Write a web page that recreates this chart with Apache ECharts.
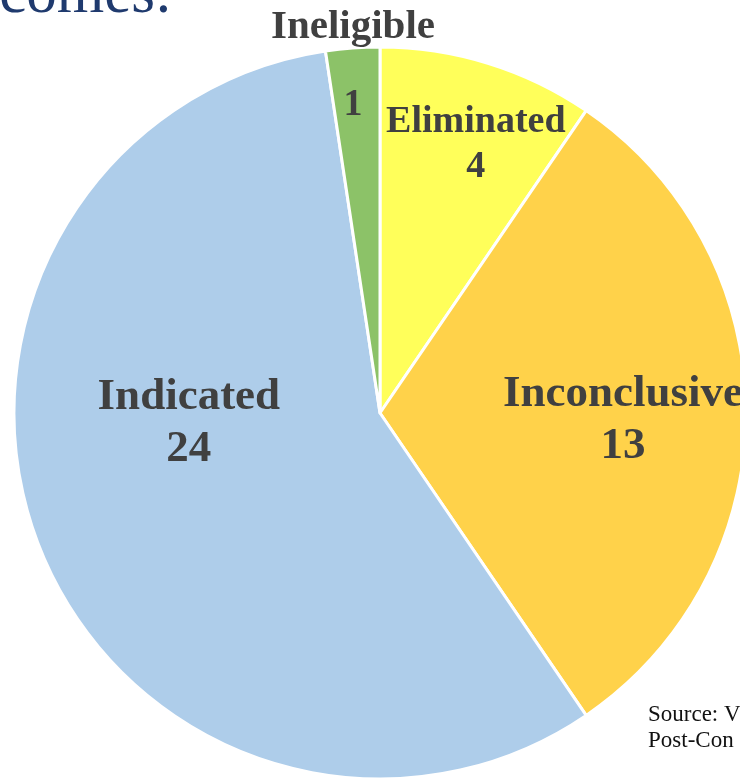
<!DOCTYPE html>
<html>
<head>
<meta charset="utf-8">
<script src="https://cdn.jsdelivr.net/npm/echarts@6/dist/echarts.min.js"></script>
<style>
  html, body { margin: 0; padding: 0; background: #fff; }
  #chart { width: 740px; height: 778px; }
</style>
</head>
<body>
<div id="chart"></div>
<script>
var categories = ["Eliminated", "Inconclusive", "Indicated", "Ineligible"];
var values = [4, 13, 24, 1];
var colors = ["#FFFF5A", "#FFD24A", "#AECDEA", "#8CC268"];
// label tweaks per slice: offset and font size
var labelOffsets = [[41, -91], [57, 7], [-18, -58], [-27, -347]];
var labelSizes = [38, 45, 45, 41];

var chartDom = document.getElementById("chart");
var myChart = echarts.init(chartDom);

var seriesData = categories.map(function (name, i) {
  var item = {
    name: name,
    value: values[i],
    itemStyle: { color: colors[i] },
    label: {
      offset: labelOffsets[i],
      fontSize: labelSizes[i],
      lineHeight: labelSizes[i] + 7
    }
  };
  if (name === "Ineligible") {
    // small slice: label anchored at the centre then shifted up above the pie
    item.label.position = "center";
    item.label.formatter = "{n|{b}}\n{s|}\n{v|{c}}";
    item.label.rich = {
      n: { fontSize: 41, lineHeight: 42, fontFamily: "Liberation Serif", fontWeight: "bold", color: "#404040" },
      s: { height: 36, lineHeight: 36 },
      v: { fontSize: 38, lineHeight: 42, fontFamily: "Liberation Serif", fontWeight: "bold", color: "#404040" }
    };
  }
  return item;
});

var option = {
  animation: false,
  graphic: [
    {
      type: "text",
      right: 568,
      top: -35,
      style: {
        text: "Outcomes:",
        font: "61px 'Liberation Serif'",
        fill: "#1F3A6E"
      }
    },
    {
      type: "text",
      left: 648,
      top: 702,
      style: {
        text: "Source: V\nPost-Con",
        font: "23px 'Liberation Serif'",
        lineHeight: 26,
        fill: "#111"
      }
    }
  ],
  series: [
    {
      type: "pie",
      center: [380, 413],
      radius: [0, 366],
      startAngle: 90,
      clockwise: true,
      data: seriesData,
      itemStyle: {
        borderColor: "#ffffff",
        borderWidth: 3
      },
      label: {
        show: true,
        position: "inside",
        formatter: "{b}\n{c}",
        fontFamily: "Liberation Serif",
        fontWeight: "bold",
        color: "#404040"
      },
      labelLine: { show: false },
      labelLayout: { hideOverlap: false },
      emphasis: { disabled: true }
    }
  ]
};

option && myChart.setOption(option);
</script>
</body>
</html>
